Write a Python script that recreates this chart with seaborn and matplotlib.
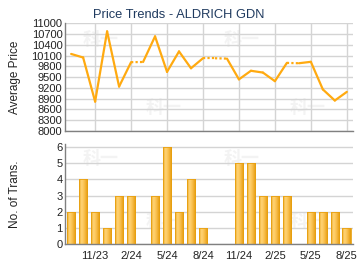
import numpy as np
import pandas as pd
import matplotlib
matplotlib.use("Agg")
import matplotlib.pyplot as plt
from matplotlib.colors import LinearSegmentedColormap
import seaborn as sns

months = ["9/23", "10/23", "11/23", "12/23", "1/24", "2/24", "3/24", "4/24",
          "5/24", "6/24", "7/24", "8/24", "9/24", "10/24", "11/24", "12/24",
          "1/25", "2/25", "3/25", "4/25", "5/25", "6/25", "7/25", "8/25"]
prices = [10150, 10050, 8820, 10780, 9240, 9920, 9925, 10640,
          9650, 10220, 9750, 10030, 10030, 10020, 9440, 9680,
          9630, 9390, 9900, 9890, 9930, 9160, 8850, 9090]
trans = [2, 4, 2, 1, 3, 3, 0, 3, 6, 2, 4, 1, 0, 0, 5, 5, 3, 3, 3, 0, 2, 2, 2, 1]
tick_labels = ["11/23", "2/24", "5/24", "8/24", "11/24", "2/25", "5/25", "8/25"]
price_ticks = [8000, 8300, 8600, 8900, 9200, 9500, 9800, 10100, 10400, 10700, 11000]
trans_ticks = [0, 1, 2, 3, 4, 5, 6]

sns.set_theme(style="white")
plt.rcParams['font.family'] = ['Liberation Sans', 'DejaVu Sans']

fig = plt.figure(figsize=(3.6, 2.7), dpi=100)
ax1 = fig.add_axes([0.181, 0.515, 0.799, 0.398])
ax2 = fig.add_axes([0.181, 0.0963, 0.799, 0.371])

idx = np.arange(len(months))
tick_pos = [months.index(t) for t in tick_labels]
grid_c = "#d4d4d4"
spine_c = "#808080"
line_c = "#FFAA10"

for ax in (ax1, ax2):
    ax.set_facecolor("white")
    for s in ("top", "right"):
        ax.spines[s].set_visible(False)
    for s in ("left", "bottom"):
        ax.spines[s].set_color(spine_c)
        ax.spines[s].set_linewidth(1.0)
    ax.set_xlim(-0.5, 23.5)
    ax.set_xticks(tick_pos)
    ax.grid(True, color=grid_c, linewidth=1.0)
    ax.set_axisbelow(True)
    ax.tick_params(axis='y', labelsize=8, colors="#222222", length=0, pad=2)

# watermark
for ax in (ax1, ax2):
    for (xx, yy) in [(0.06, 0.85), (0.55, 0.85), (0.28, 0.22), (0.78, 0.22)]:
        ax.text(xx, yy, "科一", transform=ax.transAxes, fontsize=13, fontweight='bold',
                color="#f3f3f3", family=['Noto Sans CJK SC', 'DejaVu Sans'],
                ha='left', va='center', zorder=0.5)

# price line
for i in range(len(months) - 1):
    dotted = trans[i + 1] == 0
    sns.lineplot(x=[idx[i], idx[i + 1]], y=[prices[i], prices[i + 1]], ax=ax1,
                 color=line_c, linewidth=1.6, linestyle=(0, (1, 1)) if dotted else '-',
                 solid_capstyle='round', dash_capstyle='butt')
ax1.set_ylim(8000, 11000)
ax1.set_yticks(price_ticks)
ax1.set_xticklabels([])
ax1.tick_params(axis='x', length=0)
ax1.set_ylabel("Average Price", fontsize=8.5, color="#222222")
ax1.set_xlabel("")
fig.text(0.497, 0.944, "Price Trends - ALDRICH GDN", fontsize=9.3, color="#1F3A5F",
         ha='center', va='center')

# bars
df = pd.DataFrame({"month": months, "trans": trans})
sns.barplot(data=df, x="month", y="trans", order=months, ax=ax2, width=0.72,
            color="#F5B940", saturation=1, errorbar=None)
cmap = LinearSegmentedColormap.from_list(
    "bar", ["#E9A012", "#FFD57A", "#FCC85C", "#F2B035", "#E39A05"])
grad = np.linspace(0, 1, 64).reshape(1, -1)
for p in ax2.patches:
    h = p.get_height()
    if h <= 0:
        p.set_visible(False)
        continue
    x0 = p.get_x()
    w = p.get_width()
    p.set_facecolor("none")
    p.set_edgecolor("#E8A010")
    p.set_linewidth(0.6)
    im = ax2.imshow(grad, extent=[x0, x0 + w, 0, h], aspect='auto', cmap=cmap,
                    zorder=2, interpolation='bicubic')
    im.set_clip_path(p)
    p.set_zorder(3)
ax2.set_xlim(-0.5, 23.5)
ax2.set_ylim(0, 6.2)
ax2.set_yticks(trans_ticks)
ax2.set_xticks(tick_pos)
ax2.set_xticklabels(tick_labels)
ax2.tick_params(axis='x', labelsize=8, colors="#222222", length=3, width=0.8,
                direction='out', pad=2, color=spine_c)
ax2.set_ylabel("No. of Trans.", fontsize=8.5, color="#222222")
ax2.set_xlabel("")

ax1.yaxis.set_label_coords(-0.155, 0.5)
ax2.yaxis.set_label_coords(-0.155, 0.5)

fig.savefig("out.png", dpi=100, facecolor="white")
